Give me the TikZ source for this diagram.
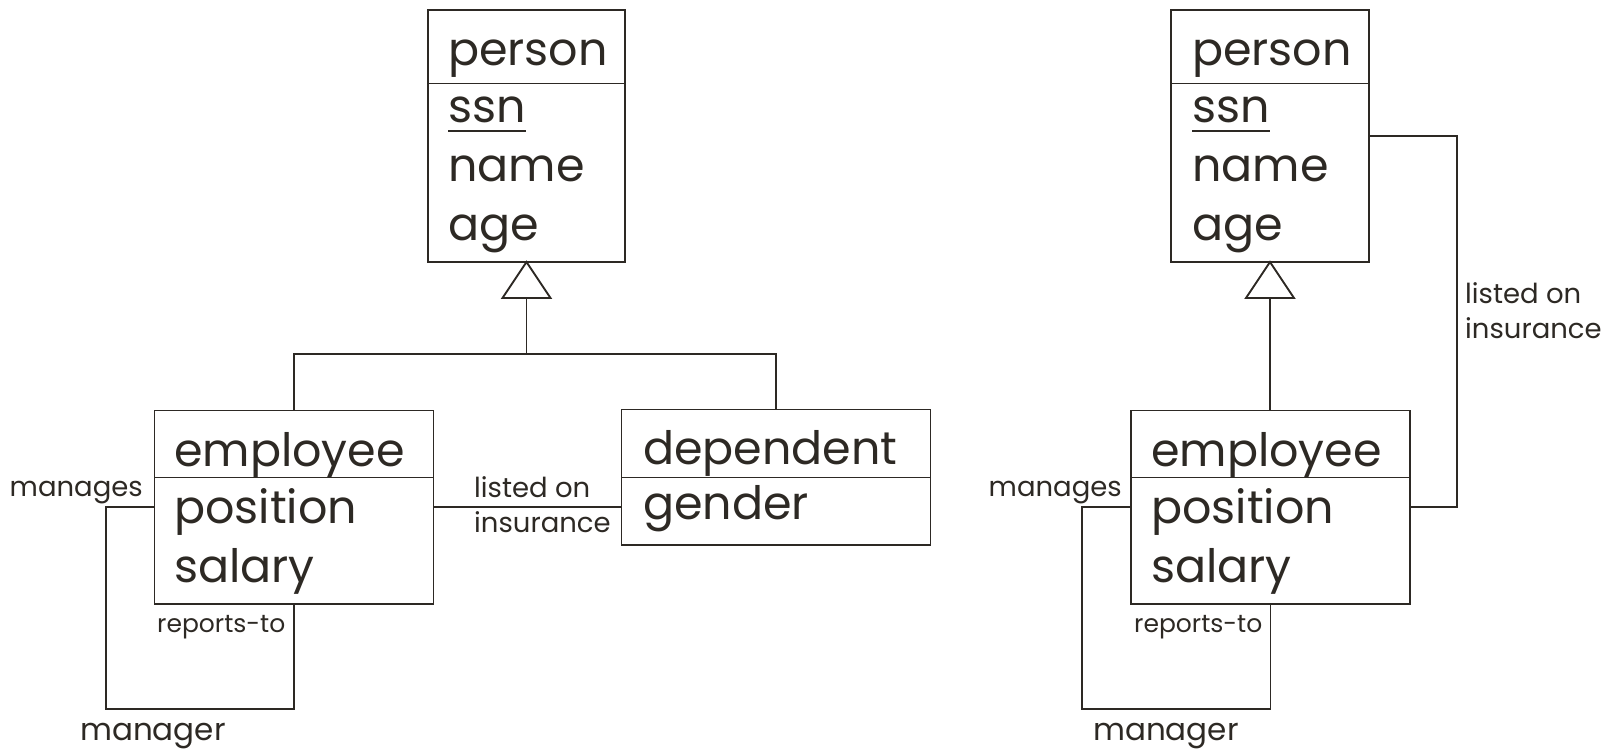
\documentclass[tikz,border=0pt]{standalone}
\usepackage{fontspec}
\setmainfont{Poppins}
\usetikzlibrary{calc}
\definecolor{ink}{RGB}{45,41,36}
\tikzset{
  box/.style={draw=ink, line width=1.9pt, rectangle, anchor=north west, inner sep=0pt, outer sep=0pt},
  big/.style={anchor=base west, inner sep=0pt, text=ink, font=\fontsize{46}{46}\selectfont},
  small/.style={inner sep=0pt, text=ink, font=\fontsize{27.5}{27.5}\selectfont},
  rep/.style={inner sep=0pt, text=ink, font=\fontsize{25}{25}\selectfont},
  role/.style={inner sep=0pt, text=ink, font=\fontsize{31}{31}\selectfont},
  conn/.style={draw=ink, line width=1.9pt},
}
\begin{document}
\begin{tikzpicture}[x=1pt,y=-1pt]
\useasboundingbox (0,0) rectangle (1615,749);
% ---------- left diagram ----------
\node[box, minimum width=197pt, minimum height=73.5pt] (p1h) at (428,10) {};
\node[box, minimum width=197pt, minimum height=178.5pt] (p1b) at (428,83.5) {};
\node[big] (p1t) at (448,66) {person};
\node[big] (p1ssn) at (448,123) {ssn};
\node[big] (p1n) at (448,182) {name};
\node[big] (p1a) at (448,240) {age};
\draw[conn] ([yshift=-8pt]p1ssn.base west) -- ([yshift=-8pt]p1ssn.base east);

\node[box, minimum width=279pt, minimum height=67pt] (e1h) at (154.5,410.5) {};
\node[box, minimum width=279pt, minimum height=126.5pt] (e1b) at (154.5,477.5) {};
\node[big] (e1t) at (174,466) {employee};
\node[big] (e1p) at (174,523) {position};
\node[big] (e1s) at (174,582) {salary};

\node[box, minimum width=309pt, minimum height=68pt] (d1h) at (621.5,409.5) {};
\node[box, minimum width=309pt, minimum height=67.5pt] (d1b) at (621.5,477.5) {};
\node[big] (d1t) at (643,464) {dependent};
\node[big] (d1g) at (643,519) {gender};

% generalization
\coordinate (t1) at ($(p1b.south)+(0,36)$);
\draw[conn] (p1b.south) -- ++(-24,36) -- ++(48,0) -- cycle;
\coordinate (j1) at (p1b.south |- 0,354);
\draw[conn] (t1) -- (j1);
\draw[conn] (e1h.north) |- (j1) -| (d1h.north);

% listed on insurance
\coordinate (y1) at (0,507);
\draw[conn] (e1b.east |- y1) -- (d1b.west |- y1);
\node[small, anchor=base west] (l1a) at (474,497) {listed on};
\node[small, anchor=base west] (l1b) at (474,532) {insurance};

% self loop
\coordinate (lp1) at (106,709);
\draw[conn] (e1b.west |- y1) -| (lp1) -| (e1b.south);
\node[small, anchor=base east] (m1) at (143,496) {manages};
\node[rep, anchor=base west] (r1t) at (157,632) {reports-to};
\node[role, anchor=base west] (mg1) at (80,740) {manager};

% ---------- right diagram ----------
\node[box, minimum width=198pt, minimum height=73.5pt] (p2h) at (1171,10) {};
\node[box, minimum width=198pt, minimum height=178.5pt] (p2b) at (1171,83.5) {};
\node[big] (p2t) at (1192,66) {person};
\node[big] (p2ssn) at (1192,123) {ssn};
\node[big] (p2n) at (1192,182) {name};
\node[big] (p2a) at (1192,240) {age};
\draw[conn] ([yshift=-8pt]p2ssn.base west) -- ([yshift=-8pt]p2ssn.base east);

\node[box, minimum width=279pt, minimum height=67pt] (e2h) at (1131,410.5) {};
\node[box, minimum width=279pt, minimum height=126.5pt] (e2b) at (1131,477.5) {};
\node[big] (e2t) at (1151,466) {employee};
\node[big] (e2p) at (1151,523) {position};
\node[big] (e2s) at (1151,582) {salary};

\coordinate (t2) at ($(p2b.south)+(0,36)$);
\draw[conn] (p2b.south) -- ++(-24,36) -- ++(48,0) -- cycle;
\draw[conn] (t2) -- (t2 |- e2h.north);

\coordinate (rc) at (1457,136);
\draw[conn] (p2b.east |- rc) -- (rc) |- (e2b.east |- y1);
\node[small, anchor=base west] (l2a) at (1465,303) {listed on};
\node[small, anchor=base west] (l2b) at (1465,338) {insurance};

\coordinate (lp2) at (1082,709);
\draw[conn] (e2b.west |- y1) -| (lp2) -| (e2b.south);
\node[small, anchor=base east] (m2) at (1122,496) {manages};
\node[rep, anchor=base west] (r2t) at (1134,632) {reports-to};
\node[role, anchor=base west] (mg2) at (1093,740) {manager};
\end{tikzpicture}
\end{document}
